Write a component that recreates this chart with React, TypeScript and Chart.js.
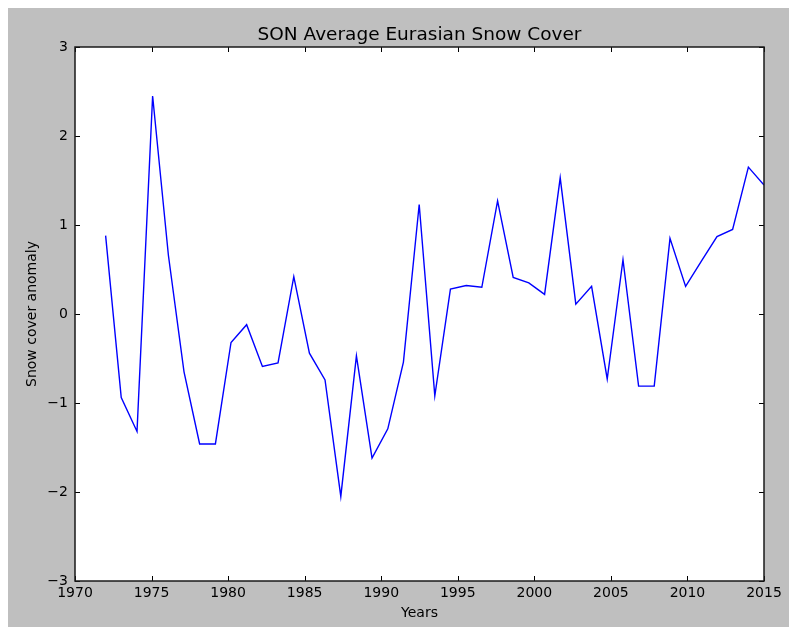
import React, { useEffect, useRef } from "react";
import { Chart, registerables } from "chart.js";

Chart.register(...registerables);

const chartTitle = "SON Average Eurasian Snow Cover";
const xAxisLabel = "Years";
const yAxisLabel = "Snow cover anomaly";

const years = [
  1972.0, 1973.02, 1974.05, 1975.07, 1976.1, 1977.12, 1978.14, 1979.17, 1980.19, 1981.21,
  1982.24, 1983.26, 1984.29, 1985.31, 1986.33, 1987.36, 1988.38, 1989.4, 1990.43, 1991.45,
  1992.48, 1993.5, 1994.52, 1995.55, 1996.57, 1997.6, 1998.62, 1999.64, 2000.67, 2001.69,
  2002.71, 2003.74, 2004.76, 2005.79, 2006.81, 2007.83, 2008.86, 2009.88, 2010.9, 2011.93,
  2012.95, 2013.98, 2015.0,
];

const snowAnomaly = [
  0.88, -0.94, -1.32, 2.45, 0.66, -0.65, -1.46, -1.46, -0.32, -0.12,
  -0.59, -0.55, 0.42, -0.44, -0.74, -2.05, -0.47, -1.62, -1.29, -0.54,
  1.23, -0.92, 0.28, 0.32, 0.3, 1.27, 0.41, 0.35, 0.22, 1.53,
  0.11, 0.31, -0.73, 0.61, -0.81, -0.81, 0.85, 0.31, 0.59, 0.87,
  0.95, 1.65, 1.45,
];

const xTicks = [1970, 1975, 1980, 1985, 1990, 1995, 2000, 2005, 2010, 2015];
const yTicks = [-3, -2, -1, 0, 1, 2, 3];

const FONT = "'DejaVu Sans', sans-serif";
const TITLE_SIZE = 18.5;
const TICK_LEN = 5;

const mplFrame = {
  id: "mplFrame",
  beforeDraw(chart: any) {
    const { ctx, chartArea: a, width, height } = chart;
    ctx.save();
    ctx.fillStyle = "#bfbfbf";
    ctx.fillRect(0, 0, width, height);
    ctx.fillStyle = "#ffffff";
    ctx.fillRect(a.left, a.top, a.right - a.left, a.bottom - a.top);
    ctx.restore();
  },
  afterDatasetsDraw(chart: any) {
    const { ctx, chartArea: a } = chart;
    const xs = chart.scales.x;
    const ys = chart.scales.y;
    ctx.save();
    ctx.strokeStyle = "#000000";
    ctx.lineWidth = 1;
    ctx.beginPath();
    for (const v of xTicks) {
      const px = Math.round(xs.getPixelForValue(v)) + 0.5;
      ctx.moveTo(px, a.bottom);
      ctx.lineTo(px, a.bottom - TICK_LEN);
      ctx.moveTo(px, a.top);
      ctx.lineTo(px, a.top + TICK_LEN);
    }
    for (const v of yTicks) {
      const py = Math.round(ys.getPixelForValue(v)) + 0.5;
      ctx.moveTo(a.left, py);
      ctx.lineTo(a.left + TICK_LEN, py);
      ctx.moveTo(a.right, py);
      ctx.lineTo(a.right - TICK_LEN, py);
    }
    ctx.stroke();
    ctx.lineWidth = 1.5;
    ctx.strokeStyle = "#1a1a1a";
    ctx.strokeRect(a.left, a.top, a.right - a.left, a.bottom - a.top);

    // title centred over the plot area (matplotlib style)
    ctx.fillStyle = "#000000";
    ctx.font = `${TITLE_SIZE}px ${FONT}`;
    ctx.textAlign = "center";
    ctx.textBaseline = "alphabetic";
    ctx.fillText(chartTitle, (a.left + a.right) / 2, a.top - 7);
    ctx.restore();
  },
};

export default function App() {
  const ref = useRef<HTMLCanvasElement | null>(null);

  useEffect(() => {
    if (!ref.current) return;
    const chart = new Chart(ref.current, {
      type: "line",
      data: {
        datasets: [
          {
            label: "SON",
            data: years.map((x, i) => ({ x, y: snowAnomaly[i] })),
            borderColor: "#0000ff",
            borderWidth: 1.4,
            pointRadius: 0,
            tension: 0,
            fill: false,
          },
        ],
      },
      options: {
        responsive: false,
        animation: false,
        devicePixelRatio: 1,
        layout: { padding: { left: 0, right: 25, top: 39, bottom: 0 } },
        plugins: {
          legend: { display: false },
          tooltip: { enabled: false },
          title: { display: false },
        },
        scales: {
          x: {
            type: "linear",
            min: xTicks[0],
            max: xTicks[xTicks.length - 1],
            afterBuildTicks: (s: any) => {
              s.ticks = xTicks.map((v) => ({ value: v }));
            },
            afterFit: (s: any) => {
              s.height = 46;
            },
            grid: { display: false, drawTicks: false },
            border: { display: false },
            ticks: {
              color: "#000000",
              font: { family: FONT, size: 14 },
              padding: 4,
              maxRotation: 0,
              autoSkip: false,
              callback: (v: any) => String(v),
            },
            title: {
              display: true,
              text: xAxisLabel,
              color: "#000000",
              font: { family: FONT, size: 14 },
              padding: { top: 0, bottom: 5 },
            },
          },
          y: {
            type: "linear",
            min: yTicks[0],
            max: yTicks[yTicks.length - 1],
            afterBuildTicks: (s: any) => {
              s.ticks = yTicks.map((v) => ({ value: v }));
            },
            afterFit: (s: any) => {
              s.width = 67;
            },
            grid: { display: false, drawTicks: false },
            border: { display: false },
            ticks: {
              color: "#000000",
              font: { family: FONT, size: 14 },
              padding: 7,
              autoSkip: false,
              callback: (v: any) => String(v).replace("-", "\u2212"),
            },
            title: {
              display: true,
              text: yAxisLabel,
              color: "#000000",
              font: { family: FONT, size: 14 },
              padding: { top: 16, bottom: 0 },
            },
          },
        },
      },
      plugins: [mplFrame],
    });
    return () => chart.destroy();
  }, []);

  return (
    <div style={{ position: "fixed", left: 8, top: 8, width: 781, height: 619 }}>
      <canvas ref={ref} width={781} height={619} style={{ display: "block", width: 781, height: 619 }} />
    </div>
  );
}
